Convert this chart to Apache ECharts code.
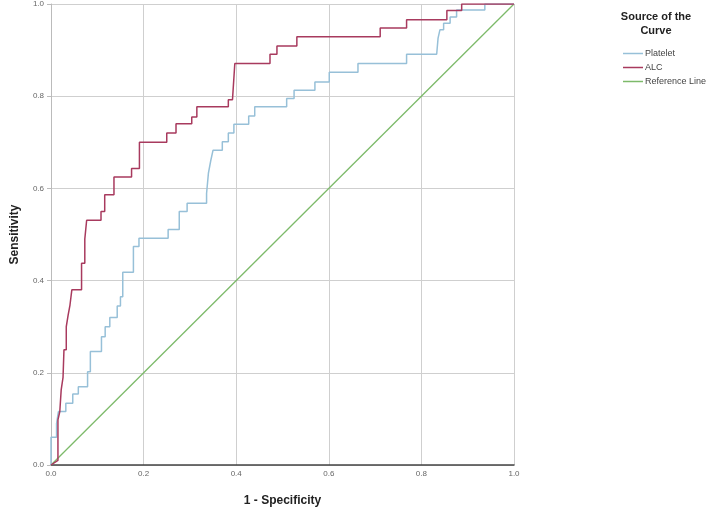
<!DOCTYPE html>
<html>
<head>
<meta charset="utf-8">
<title>ROC Curve</title>
<script src="https://cdn.jsdelivr.net/npm/echarts@6/dist/echarts.min.js"></script>
<style>
  html, body { margin: 0; padding: 0; background: #fff; }
  #chart { width: 722px; height: 513px; }
</style>
</head>
<body>
<div id="chart"></div>
<script>
// tick labels
const ticks = ['0.0', '0.2', '0.4', '0.6', '0.8', '1.0']

// Platelet ROC curve (1 - specificity, sensitivity)
const plateletX = [0, 0, 0.012, 0.012, 0.016, 0.016, 0.032, 0.032, 0.047, 0.047, 0.059, 0.059, 0.079, 0.079, 0.085, 0.085,
  0.109, 0.109, 0.117, 0.117, 0.127, 0.127, 0.143, 0.143, 0.15, 0.15, 0.155, 0.155, 0.178, 0.178, 0.19, 0.19,
  0.253, 0.253, 0.277, 0.277, 0.294, 0.294, 0.336, 0.336, 0.34, 0.345, 0.35, 0.37, 0.37, 0.383, 0.383, 0.395, 0.395,
  0.427, 0.427, 0.44, 0.44, 0.509, 0.509, 0.525, 0.525, 0.57, 0.57, 0.601, 0.601, 0.663, 0.663, 0.768, 0.768,
  0.833, 0.836, 0.84, 0.84, 0.848, 0.848, 0.862, 0.862, 0.876, 0.876, 0.937, 0.937, 1.0]
const plateletY = [0, 0.06, 0.06, 0.09, 0.09, 0.116, 0.116, 0.134, 0.134, 0.154, 0.154, 0.17, 0.17, 0.2025, 0.2025, 0.246,
  0.246, 0.278, 0.278, 0.30, 0.30, 0.32, 0.32, 0.345, 0.345, 0.365, 0.365, 0.418, 0.418, 0.474, 0.474, 0.492,
  0.492, 0.511, 0.511, 0.55, 0.55, 0.568, 0.568, 0.589, 0.633, 0.66, 0.683, 0.683, 0.701, 0.701, 0.72, 0.72, 0.739,
  0.739, 0.757, 0.757, 0.777, 0.777, 0.795, 0.795, 0.813, 0.813, 0.831, 0.831, 0.852, 0.852, 0.871, 0.871, 0.891,
  0.891, 0.926, 0.926, 0.944, 0.944, 0.958, 0.958, 0.972, 0.972, 0.987, 0.987, 1.0, 1.0]

// ALC ROC curve
const alcX = [0, 0.015, 0.015, 0.019, 0.019, 0.022, 0.022, 0.026, 0.026, 0.028, 0.028, 0.033, 0.033, 0.037, 0.037, 0.041,
  0.041, 0.045, 0.045, 0.066, 0.066, 0.073, 0.073, 0.077, 0.077, 0.108, 0.108, 0.116, 0.116, 0.136, 0.136, 0.174,
  0.174, 0.191, 0.191, 0.25, 0.25, 0.27, 0.27, 0.304, 0.304, 0.315, 0.315, 0.383, 0.383, 0.392, 0.397, 0.473, 0.473,
  0.488, 0.488, 0.531, 0.531, 0.711, 0.711, 0.768, 0.768, 0.855, 0.855, 0.887, 0.887, 1.0]
const alcY = [0, 0.01, 0.098, 0.098, 0.116, 0.116, 0.163, 0.163, 0.19, 0.19, 0.25, 0.25, 0.30, 0.30, 0.325, 0.325,
  0.347, 0.347, 0.38, 0.38, 0.4375, 0.4375, 0.49, 0.49, 0.531, 0.531, 0.55, 0.55, 0.586, 0.586, 0.625, 0.625,
  0.643, 0.643, 0.70, 0.70, 0.72, 0.72, 0.74, 0.74, 0.755, 0.755, 0.777, 0.777, 0.7925, 0.7925, 0.871, 0.871, 0.891,
  0.891, 0.909, 0.909, 0.929, 0.929, 0.948, 0.948, 0.966, 0.966, 0.986, 0.986, 1.0, 1.0]

// diagonal reference line
const referenceX = [0, 1]
const referenceY = [0, 1]

const seriesNames = ['Platelet', 'ALC', 'Reference Line']
const seriesColors = ['#97c0d8', '#a83a5e', '#7dba6a']

const zip = (xs, ys) => xs.map((x, i) => [x, ys[i]])

const chart = echarts.init(document.getElementById('chart'))

const axisCommon = {
  type: 'value',
  min: 0,
  max: 1,
  interval: 0.2,
  nameLocation: 'middle',
  nameTextStyle: { fontFamily: 'Liberation Sans', fontSize: 12, fontWeight: 'bold', color: '#222' },
  axisLabel: {
    fontFamily: 'Liberation Sans',
    fontSize: 8,
    color: '#666',
    formatter: v => ticks[Math.round(v * 5)]
  },
  splitLine: { lineStyle: { color: '#cfcfcf', width: 1 } }
}

const option = {
  animation: false,
  backgroundColor: '#fff',
  title: {
    text: 'Source of the\nCurve',
    left: 651,
    top: 5,
    textAlign: 'center',
    textStyle: { fontFamily: 'Liberation Sans', fontSize: 11, fontWeight: 'bold', color: '#222', lineHeight: 14 }
  },
  legend: {
    orient: 'vertical',
    left: 618,
    top: 44,
    icon: 'rect',
    itemWidth: 20,
    itemHeight: 1.5,
    itemGap: 5,
    textStyle: { fontFamily: 'Liberation Sans', fontSize: 9, color: '#444', padding: [0, 0, 0, -3] },
    data: seriesNames
  },
  grid: { left: 51, right: 208, top: 4, bottom: 48 },
  xAxis: {
    ...axisCommon,
    name: '1 - Specificity',
    nameGap: 30,
    axisLabel: { ...axisCommon.axisLabel, margin: 5 },
    axisLine: { lineStyle: { color: '#444', width: 1.5 } },
    axisTick: { show: false }
  },
  yAxis: {
    ...axisCommon,
    name: 'Sensitivity',
    nameGap: 30,
    axisLabel: { ...axisCommon.axisLabel, margin: 7 },
    axisLine: { show: true, lineStyle: { color: '#bbb', width: 1 } },
    axisTick: { show: true, length: 4, lineStyle: { color: '#bbb' } }
  },
  series: [
    {
      name: seriesNames[2],
      type: 'line',
      data: zip(referenceX, referenceY),
      symbol: 'none',
      itemStyle: { color: seriesColors[2] },
      lineStyle: { color: seriesColors[2], width: 1.3 },
      z: 2
    },
    {
      name: seriesNames[0],
      type: 'line',
      data: zip(plateletX, plateletY),
      symbol: 'none',
      itemStyle: { color: seriesColors[0] },
      lineStyle: { color: seriesColors[0], width: 1.5 },
      z: 3
    },
    {
      name: seriesNames[1],
      type: 'line',
      data: zip(alcX, alcY),
      symbol: 'none',
      itemStyle: { color: seriesColors[1] },
      lineStyle: { color: seriesColors[1], width: 1.5 },
      z: 4
    }
  ]
}

chart.setOption(option)
</script>
</body>
</html>
